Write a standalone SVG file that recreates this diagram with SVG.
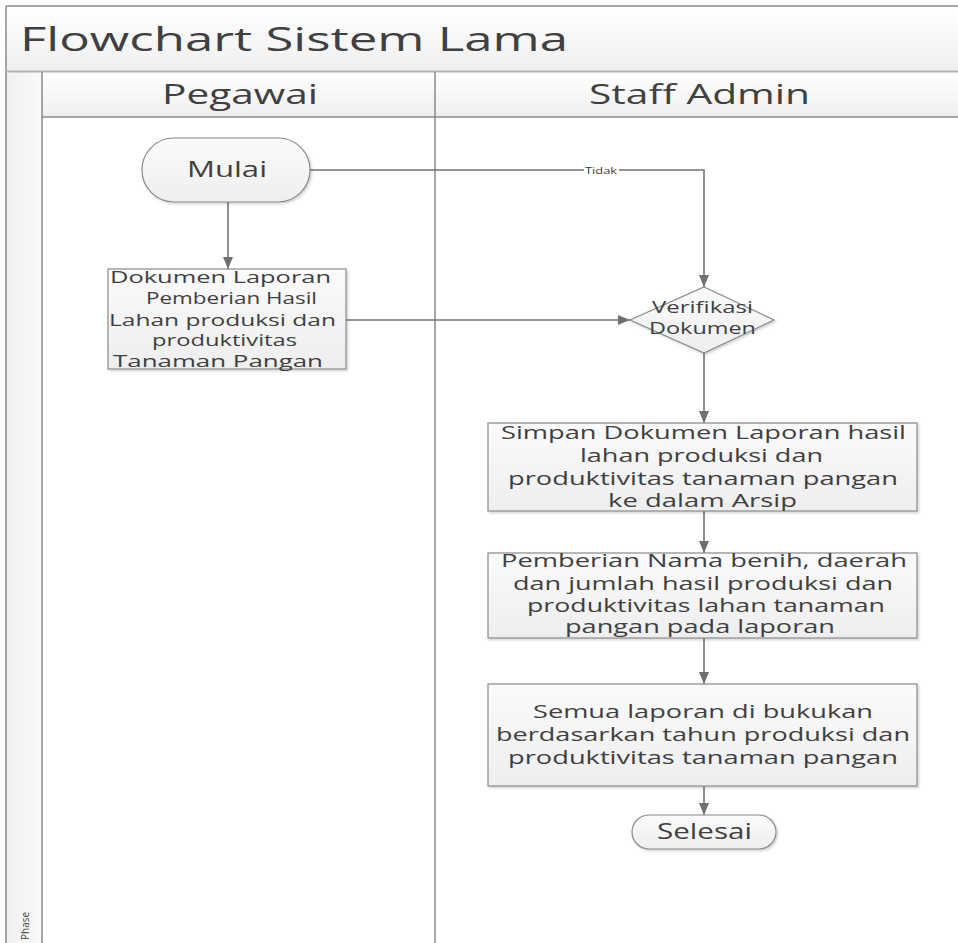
<svg xmlns="http://www.w3.org/2000/svg" width="958" height="943" viewBox="0 0 958 943">
  <defs>
    <linearGradient id="band" x1="0" y1="0" x2="0" y2="1">
      <stop offset="0" stop-color="#ffffff"/>
      <stop offset="1" stop-color="#efefef"/>
    </linearGradient>
    <linearGradient id="phase" x1="0" y1="0" x2="1" y2="0">
      <stop offset="0" stop-color="#f0f0f0"/>
      <stop offset="1" stop-color="#fafafa"/>
    </linearGradient>
    <linearGradient id="shape" x1="0" y1="0" x2="0" y2="1">
      <stop offset="0" stop-color="#fbfbfb"/>
      <stop offset="1" stop-color="#eeeeee"/>
    </linearGradient>
    <filter id="shadow" x="-5%" y="-5%" width="115%" height="120%">
      <feDropShadow dx="1.5" dy="1.5" stdDeviation="1" flood-color="#000" flood-opacity="0.18"/>
    </filter>
    <marker id="arrow" viewBox="0 0 12 10" refX="12" refY="5" markerWidth="12" markerHeight="10" markerUnits="userSpaceOnUse" orient="auto">
      <path d="M0,0 L12,5 L0,10 Z" fill="#6f6f6f"/>
    </marker>
  </defs>
  <style>
    text { font-family: "Open Sans", "Noto Sans", "DejaVu Sans", sans-serif; fill: #404040; }
    .lane { stroke: #8a8a8a; stroke-width: 1.5; fill: none; }
    .node { fill: url(#shape); stroke: #8a8a8a; stroke-width: 1.2; filter: url(#shadow); }
    .conn { stroke: #737373; stroke-width: 1.6; fill: none; marker-end: url(#arrow); }
    .s16 { font-size: 16px; }
    .s19 { font-size: 19px; }
  </style>

  <rect x="0" y="0" width="958" height="943" fill="#ffffff"/>

  <!-- swimlane frame -->
  <g id="pool">
    <rect x="6" y="6" width="960" height="65" fill="url(#band)"/>
    <rect x="6" y="72" width="36" height="880" fill="url(#phase)"/>
    <rect x="42" y="72" width="920" height="45" fill="url(#band)"/>
    <line class="lane" x1="6" y1="6" x2="958" y2="6"/>
    <line class="lane" x1="6" y1="6" x2="6" y2="943"/>
    <line x1="6" y1="71.5" x2="958" y2="71.5" stroke="#b5b5b5" stroke-width="2"/>
    <line class="lane" x1="42" y1="117" x2="958" y2="117"/>
    <line class="lane" x1="42" y1="72" x2="42" y2="943"/>
    <line class="lane" x1="435" y1="72" x2="435" y2="943"/>
    <text x="20" y="51" font-size="33" textLength="548" lengthAdjust="spacingAndGlyphs">Flowchart Sistem Lama</text>
    <text x="162" y="104" font-size="27" textLength="156" lengthAdjust="spacingAndGlyphs">Pegawai</text>
    <text x="589" y="104" font-size="27" textLength="221" lengthAdjust="spacingAndGlyphs">Staff Admin</text>
    <text transform="translate(29,940) rotate(-90)" font-size="10" fill="#555">Phase</text>
  </g>

  <!-- connectors -->
  <g id="connectors">
    <line class="conn" x1="228" y1="202" x2="228" y2="269"/>
    <line class="conn" x1="346" y1="320" x2="630" y2="320"/>
    <path class="conn" d="M310,170 H704 V287"/>
    <line class="conn" x1="704" y1="353" x2="704" y2="423"/>
    <line class="conn" x1="704" y1="511" x2="704" y2="553"/>
    <line class="conn" x1="704" y1="638" x2="704" y2="684"/>
    <line class="conn" x1="704" y1="786" x2="704" y2="815"/>
    <rect x="584" y="164" width="35" height="12" fill="#ffffff"/>
    <text x="585" y="173.5" font-size="9.5" textLength="32" lengthAdjust="spacingAndGlyphs">Tidak</text>
  </g>

  <g id="mulai">
    <rect class="node" x="142" y="138" width="168" height="64" rx="32" ry="32"/>
    <text x="187" y="177" font-size="21" textLength="80" lengthAdjust="spacingAndGlyphs">Mulai</text>
  </g>

  <g id="dokumen">
    <rect class="node" x="108" y="269" width="238" height="100"/>
    <text class="s16" x="110" y="283" textLength="221" lengthAdjust="spacingAndGlyphs">Dokumen Laporan</text>
    <text class="s16" x="146" y="304" textLength="171" lengthAdjust="spacingAndGlyphs">Pemberian Hasil</text>
    <text class="s16" x="109" y="326" textLength="227" lengthAdjust="spacingAndGlyphs">Lahan produksi dan</text>
    <text class="s16" x="152" y="346" textLength="145" lengthAdjust="spacingAndGlyphs">produktivitas</text>
    <text class="s16" x="113" y="367" textLength="210" lengthAdjust="spacingAndGlyphs">Tanaman Pangan</text>
  </g>

  <g id="verifikasi">
    <polygon class="node" points="704,287 774,320 704,353 630,320"/>
    <text x="652" y="313" font-size="17" textLength="101" lengthAdjust="spacingAndGlyphs">Verifikasi</text>
    <text x="649" y="334" font-size="17" textLength="107" lengthAdjust="spacingAndGlyphs">Dokumen</text>
  </g>

  <g id="simpan">
    <rect class="node" x="488" y="423" width="429" height="88"/>
    <text class="s19" x="501" y="439" textLength="405" lengthAdjust="spacingAndGlyphs">Simpan Dokumen Laporan hasil</text>
    <text class="s19" x="580" y="462" textLength="243" lengthAdjust="spacingAndGlyphs">lahan produksi dan</text>
    <text class="s19" x="508" y="485" textLength="390" lengthAdjust="spacingAndGlyphs">produktivitas tanaman pangan</text>
    <text class="s19" x="608" y="507" textLength="189" lengthAdjust="spacingAndGlyphs">ke dalam Arsip</text>
  </g>

  <g id="pemberian">
    <rect class="node" x="488" y="553" width="429" height="85"/>
    <text class="s19" x="501" y="567" textLength="406" lengthAdjust="spacingAndGlyphs">Pemberian Nama benih, daerah</text>
    <text class="s19" x="513" y="590" textLength="380" lengthAdjust="spacingAndGlyphs">dan jumlah hasil produksi dan</text>
    <text class="s19" x="527" y="612" textLength="358" lengthAdjust="spacingAndGlyphs">produktivitas lahan tanaman</text>
    <text class="s19" x="565" y="633" textLength="270" lengthAdjust="spacingAndGlyphs">pangan pada laporan</text>
  </g>

  <g id="bukukan">
    <rect class="node" x="488" y="684" width="429" height="102"/>
    <text class="s19" x="533" y="718" textLength="340" lengthAdjust="spacingAndGlyphs">Semua laporan di bukukan</text>
    <text class="s19" x="496" y="741" textLength="414" lengthAdjust="spacingAndGlyphs">berdasarkan tahun produksi dan</text>
    <text class="s19" x="508" y="764" textLength="390" lengthAdjust="spacingAndGlyphs">produktivitas tanaman pangan</text>
  </g>

  <g id="selesai">
    <rect class="node" x="632" y="815" width="144" height="34" rx="17" ry="17"/>
    <text x="657" y="839" font-size="21" textLength="95" lengthAdjust="spacingAndGlyphs">Selesai</text>
  </g>
</svg>
